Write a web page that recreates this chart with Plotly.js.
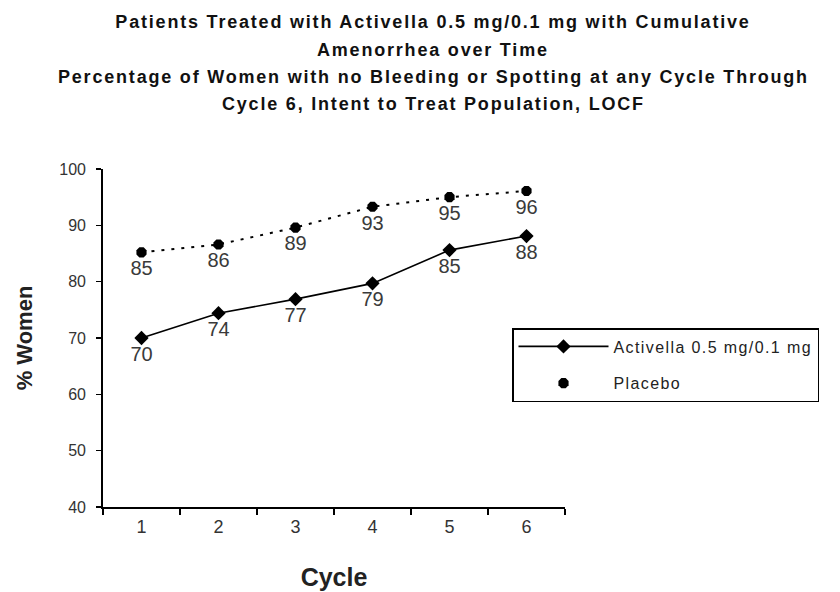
<!DOCTYPE html>
<html>
<head>
<meta charset="utf-8">
<script src="https://cdn.plot.ly/plotly-3.0.1.min.js"></script>
<style>
html,body{margin:0;padding:0;background:#fff;}
#chart{width:840px;height:592px;}
.gtitle, .annotation-text { letter-spacing: 1.8px; }
.legendtext { letter-spacing: 1.4px; }
</style>
</head>
<body>
<div id="chart"></div>
<script>
const cycles = ['1', '2', '3', '4', '5', '6'];
const activella = [70.0, 74.4, 76.9, 79.7, 85.6, 88.1];
const activellaLabels = ['70', '74', '77', '79', '85', '88'];
const placebo = [85.2, 86.6, 89.6, 93.3, 95.0, 96.1];
const placeboLabels = ['85', '86', '89', '93', '95', '96'];
const yTicks = [40, 50, 60, 70, 80, 90, 100];
const titleLines = [
  'Patients Treated with Activella 0.5 mg/0.1 mg with Cumulative',
  'Amenorrhea over Time',
  'Percentage of Women with no Bleeding or Spotting at any Cycle Through',
  'Cycle 6, Intent to Treat Population, LOCF'
];

const FONT = 'Liberation Sans, Arial, sans-serif';
const LABEL_FONT = {family: FONT, size: 20, color: '#3a3a3a'};

const traces = [
  {
    x: cycles, y: activella, text: activellaLabels,
    name: 'Activella 0.5 mg/0.1 mg',
    type: 'scatter', mode: 'lines+markers+text',
    textposition: 'bottom center', textfont: LABEL_FONT,
    line: {color: '#000', width: 1.6},
    marker: {symbol: 'diamond', size: 11, color: '#000'},
    legendgroup: 'a', cliponaxis: false
  },
  {
    x: cycles, y: placebo,
    name: 'Placebo', showlegend: false,
    type: 'scatter', mode: 'lines',
    line: {color: '#000', width: 2, dash: '3px,7px'},
    legendgroup: 'b', hoverinfo: 'skip'
  },
  {
    x: cycles, y: placebo, text: placeboLabels,
    name: 'Placebo',
    type: 'scatter', mode: 'markers+text',
    textposition: 'bottom center', textfont: LABEL_FONT,
    marker: {symbol: 'octagon', size: 11, color: '#000'},
    legendgroup: 'b', cliponaxis: false
  }
];

// plot area: x 103..565 px, y 169..507 px
const titleX = (433 - 103) / 462;
const lineY = [50, 77, 104];
const annotations = titleLines.slice(1).map((t, i) => ({
  text: '<b>' + t + '</b>',
  xref: 'paper', yref: 'paper',
  x: titleX, y: (507 - lineY[i]) / 338,
  xanchor: 'center', yanchor: 'middle',
  showarrow: false,
  font: {family: FONT, size: 18, color: '#111'}
}));

const layout = {
  width: 840, height: 592,
  paper_bgcolor: '#fff', plot_bgcolor: '#fff',
  margin: {l: 103, r: 275, t: 169, b: 85, pad: 0},
  font: {family: FONT, color: '#222'},
  title: {
    text: '<b>' + titleLines[0] + '</b>',
    font: {family: FONT, size: 18, color: '#111'},
    x: 433 / 840, xanchor: 'center', xref: 'container',
    y: 1 - 22 / 592, yanchor: 'middle', yref: 'container'
  },
  annotations: annotations,
  xaxis: {
    type: 'category', range: [-0.5, 5.5],
    tickson: 'boundaries', ticks: 'outside', ticklen: 6, tickwidth: 1.5, tickcolor: '#000',
    showline: true, linecolor: '#000', linewidth: 1.8,
    showgrid: false, zeroline: false,
    ticklabelstandoff: 3,
    tickfont: {family: FONT, size: 18, color: '#333'},
    title: {text: '<b>Cycle</b>', font: {family: FONT, size: 25, color: '#222'}, standoff: 32}
  },
  yaxis: {
    range: [40, 100], tickvals: yTicks,
    ticks: 'outside', ticklen: 5, tickwidth: 1.5, tickcolor: '#000',
    showline: true, linecolor: '#000', linewidth: 1.8,
    showgrid: false, zeroline: false,
    ticklabelstandoff: 7,
    tickfont: {family: FONT, size: 16, color: '#333'},
    title: {text: '<b>% Women</b>', font: {family: FONT, size: 22, color: '#222'}, standoff: 20}
  },
  legend: {
    x: (512 - 103) / 462, xanchor: 'left', y: (507 - 328) / 338, yanchor: 'top',
    bordercolor: '#000', borderwidth: 1.5, bgcolor: '#fff',
    font: {family: FONT, size: 16, color: '#222'},
    traceorder: 'grouped', tracegroupgap: 13,
    itemwidth: 90,
    itemclick: false
  },
  showlegend: true
};

Plotly.newPlot('chart', traces, layout, {displayModeBar: false, staticPlot: true});
</script>
</body>
</html>
